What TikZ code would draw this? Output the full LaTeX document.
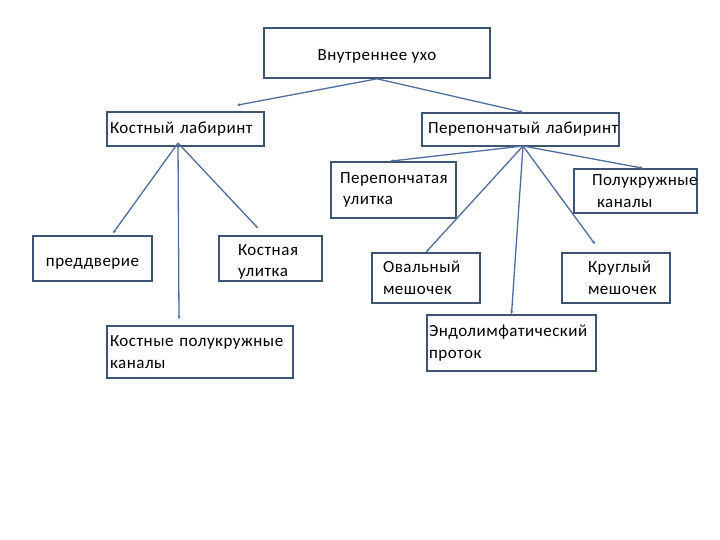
\documentclass[tikz,border=0pt]{standalone}
\usepackage{fontspec}
\setmainfont{Carlito}[LetterSpace=3]
\usetikzlibrary{arrows.meta}

\definecolor{boxline}{RGB}{62,84,114}
\definecolor{linkline}{RGB}{78,110,158}

\begin{document}
\begin{tikzpicture}[
    x=1pt, y=-1pt,
    box/.style={draw=boxline, line width=1.6pt, fill=white, inner xsep=0pt, inner ysep=0pt,
        align=left, font=\fontsize{17}{21.5}\selectfont},
    arrow/.style={-{Stealth[length=3.5pt, width=3pt]}, draw=linkline, line width=1.3pt}
]
    \useasboundingbox (0,0) rectangle (720,540);

    % Top node
    \node[box, align=center, minimum width=226pt, minimum height=50pt, text height=16pt, text depth=0pt] (ear) at (377,53) {Внутреннее ухо};

    % Second level
    \node[box, minimum width=157pt, minimum height=34pt, text width=151pt] (bony) at (185.5,129) {Костный лабиринт};
    \node[box, minimum width=197pt, minimum height=33pt, text width=185pt] (memb) at (520.5,129.5) {\mbox{Перепончатый лабиринт}};

    % Bony labyrinth parts
    \node[box, align=center, minimum width=119pt, minimum height=45pt, text height=16pt, text depth=1pt] (vest) at (92.5,258.5) {преддверие};
    \node[box, minimum width=103pt, minimum height=45pt, text width=65pt, text height=18pt] (bcoch) at (270.5,258.5) {Костная\\улитка};
    \node[box, minimum width=186pt, minimum height=52pt, text width=180pt] (bcanals) at (200,352) {Костные полукружные\\каналы};

    % Membranous labyrinth parts
    \node[box, minimum width=125pt, minimum height=56pt, text width=107pt] (mcoch) at (393.5,190) {Перепончатая\\\hspace*{3pt}улитка};
    \node[box, minimum width=123pt, minimum height=44pt, text width=87pt] (semi) at (635.5,191) {Полукружные\\\hspace*{5pt}каналы};
    \node[box, minimum width=108pt, minimum height=50pt, text width=86pt] (utric) at (426,278) {Овальный\\мешочек};
    \node[box, minimum width=108pt, minimum height=50pt, text width=56pt] (sacc) at (616,278) {Круглый\\мешочек};
    \node[box, minimum width=169pt, minimum height=56pt, text width=165pt] (duct) at (511.5,343) {Эндолимфатический\\проток};

    % Hubs where the lines meet
    \coordinate (bonyhub) at (178,143);
    \coordinate (membhub) at (523,146);

    % Edges from the top node
    \draw[arrow] (ear.south) -- ([xshift=51.5pt, yshift=6pt]bony.north);
    \draw[arrow] (ear.south) -- ([xshift=2.5pt]memb.north);

    % Edges of the bony labyrinth
    \draw[arrow] (bonyhub) -- ([xshift=20.5pt, yshift=2pt]vest.north);
    \draw[arrow] (bonyhub) -- ([xshift=-21pt, yshift=6pt]bcanals.north);
    \draw[arrow] (bonyhub) -- ([xshift=-12.5pt, yshift=7pt]bcoch.north);

    % Edges of the membranous labyrinth
    \draw[arrow] (membhub) -- ([xshift=-3.5pt]mcoch.north);
    \draw[arrow] (membhub) -- (utric.north);
    \draw[arrow] (membhub) -- (duct.north);
    \draw[arrow] (membhub) -- ([xshift=-21pt, yshift=8pt]sacc.north);
    \draw[arrow] (membhub) -- ([xshift=7.5pt]semi.north);

\end{tikzpicture}
\end{document}
